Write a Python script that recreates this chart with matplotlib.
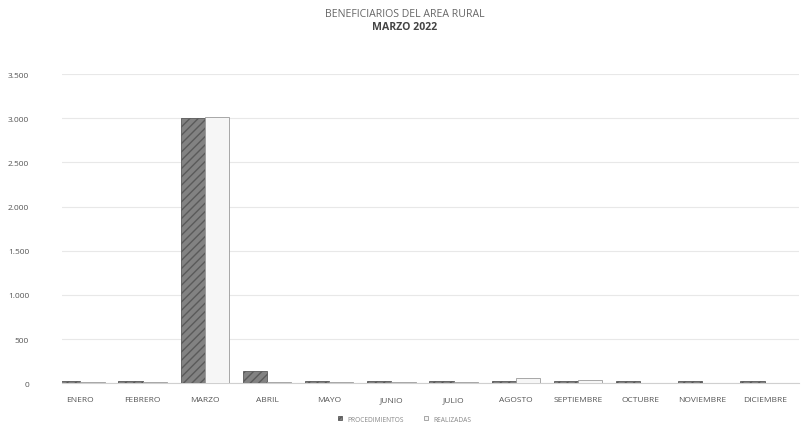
import matplotlib
matplotlib.use("Agg")
import matplotlib.pyplot as plt
import numpy as np

plt.rcParams['font.family'] = ['Open Sans', 'DejaVu Sans']

months = ["ENERO", "FEBRERO", "MARZO", "ABRIL", "MAYO", "JUNIO", "JULIO",
          "AGOSTO", "SEPTIEMBRE", "OCTUBRE", "NOVIEMBRE", "DICIEMBRE"]
procedimientos = [30, 25, 3000, 140, 25, 25, 25, 25, 25, 25, 25, 25]
realizadas = [15, 15, 3020, 10, 15, 15, 15, 60, 40, 0, 0, 0]
series_names = ["PROCEDIMIENTOS", "REALIZADAS"]
yticks = [0, 500, 1000, 1500, 2000, 2500, 3000, 3500]
ytick_labels = ["0", "500", "1.000", "1.500", "2.000", "2.500", "3.000", "3.500"]

fig = plt.figure(figsize=(8.1, 4.27), dpi=100)
ax = fig.add_axes([0.077, 0.10, 0.91, 0.724])

x = np.arange(len(months))
w = 0.39
b1 = ax.bar(x - w / 2, procedimientos, w, color="#828282", edgecolor="#5a5a5a",
            linewidth=0.6, hatch="////", label=series_names[0], zorder=3)
b2 = ax.bar(x + w / 2, realizadas, w, color="#f6f6f6", edgecolor="#9a9a9a",
            linewidth=0.6, label=series_names[1], zorder=3)

ax.set_ylim(0, 3500)
ax.set_xlim(-0.29, 11.56)
ax.set_yticks(yticks)
ax.set_yticklabels(ytick_labels)
ax.set_xticks(x)
ax.set_xticklabels(months)
ax.tick_params(axis="both", length=0, labelsize=6, colors="#555555")
ax.tick_params(axis="x", pad=9)
ax.tick_params(axis="y", pad=24)
ax.grid(axis="y", color="#e8e8e8", linewidth=0.8, zorder=0)
for s in ["top", "right", "left"]:
    ax.spines[s].set_visible(False)
ax.spines["bottom"].set_color("#d0d0d0")

fig.text(0.5, 0.966, "BENEFICIARIOS DEL AREA RURAL", ha="center", va="center",
         fontsize=7.6, color="#666666")
fig.text(0.5, 0.935, "MARZO 2022", ha="center", va="center",
         fontsize=7.6, color="#444444", fontweight="bold")

leg = fig.legend(handles=[b1, b2], loc="center", bbox_to_anchor=(0.5, 0.016),
                 ncol=2, frameon=False, fontsize=4.8, handlelength=0.6,
                 handleheight=0.6, columnspacing=3, labelcolor="#888888")

fig.savefig("out.png", dpi=100)
